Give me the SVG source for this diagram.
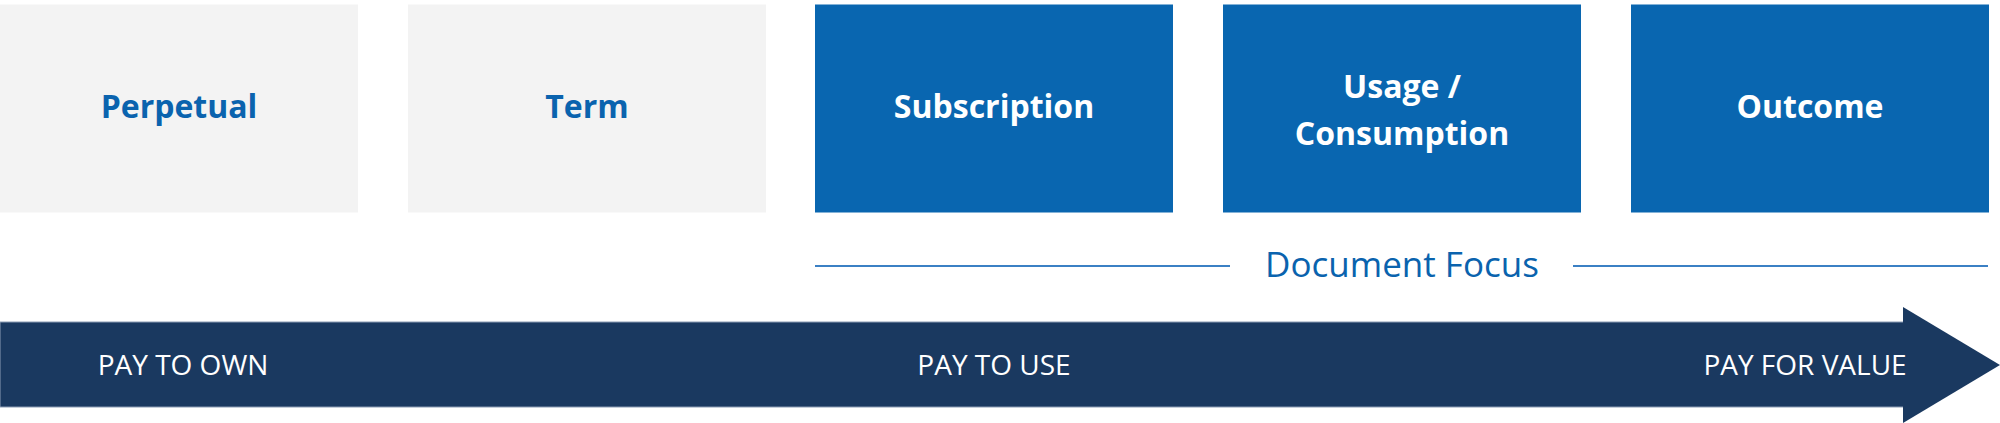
<svg xmlns="http://www.w3.org/2000/svg" width="2000" height="423" viewBox="0 0 2000 423">
  <style>
    .box-light { fill: #f3f3f3; }
    .box-blue { fill: #0966b0; }
    .lbl { font-family: "Open Sans", "Noto Sans", sans-serif; font-weight: 700; font-size: 32px; text-anchor: middle; }
    .lbl-blue { fill: #0a63ae; }
    .lbl-white { fill: #ffffff; }
    .focus-line { stroke: #3b80c4; stroke-width: 2; fill: none; }
    .focus-text { font-family: "Open Sans", "Noto Sans", sans-serif; font-size: 35px; fill: #0a63ae; text-anchor: middle; }
    .bar { fill: #1a3960; }
    .bar-text { font-family: "Open Sans", "Noto Sans", sans-serif; font-size: 28px; fill: #ffffff; text-anchor: middle; }
  </style>
  <rect width="2000" height="423" fill="#ffffff"/>

  <g id="node-perpetual">
    <rect class="box-light" x="0" y="4.5" width="358" height="208"/>
    <text class="lbl lbl-blue" x="179" y="118">Perpetual</text>
  </g>
  <g id="node-term">
    <rect class="box-light" x="408" y="4.5" width="358" height="208"/>
    <text class="lbl lbl-blue" x="587" y="118">Term</text>
  </g>
  <g id="node-subscription">
    <rect class="box-blue" x="815" y="4.5" width="358" height="208"/>
    <text class="lbl lbl-white" x="994" y="118">Subscription</text>
  </g>
  <g id="node-usage">
    <rect class="box-blue" x="1223" y="4.5" width="358" height="208"/>
    <text class="lbl lbl-white" x="1402" y="98">Usage /</text>
    <text class="lbl lbl-white" x="1402" y="145">Consumption</text>
  </g>
  <g id="node-outcome">
    <rect class="box-blue" x="1631" y="4.5" width="358" height="208"/>
    <text class="lbl lbl-white" x="1810" y="118">Outcome</text>
  </g>

  <g id="connectors">
    <g id="document-focus">
      <line class="focus-line" x1="815" y1="266" x2="1230" y2="266"/>
      <line class="focus-line" x1="1573" y1="266" x2="1988" y2="266"/>
      <text class="focus-text" x="1402" y="277">Document Focus</text>
    </g>
    <g id="timeline-arrow">
      <rect class="bar" x="0" y="322" width="1904" height="85" stroke="#8a9bb3" stroke-width="1"/>
      <polygon class="bar" points="1903,307 2000,365 1903,423"/>
      <text class="bar-text" x="183" y="375">PAY TO OWN</text>
      <text class="bar-text" x="994" y="375">PAY TO USE</text>
      <text class="bar-text" x="1805" y="375">PAY FOR VALUE</text>
    </g>
  </g>
</svg>
